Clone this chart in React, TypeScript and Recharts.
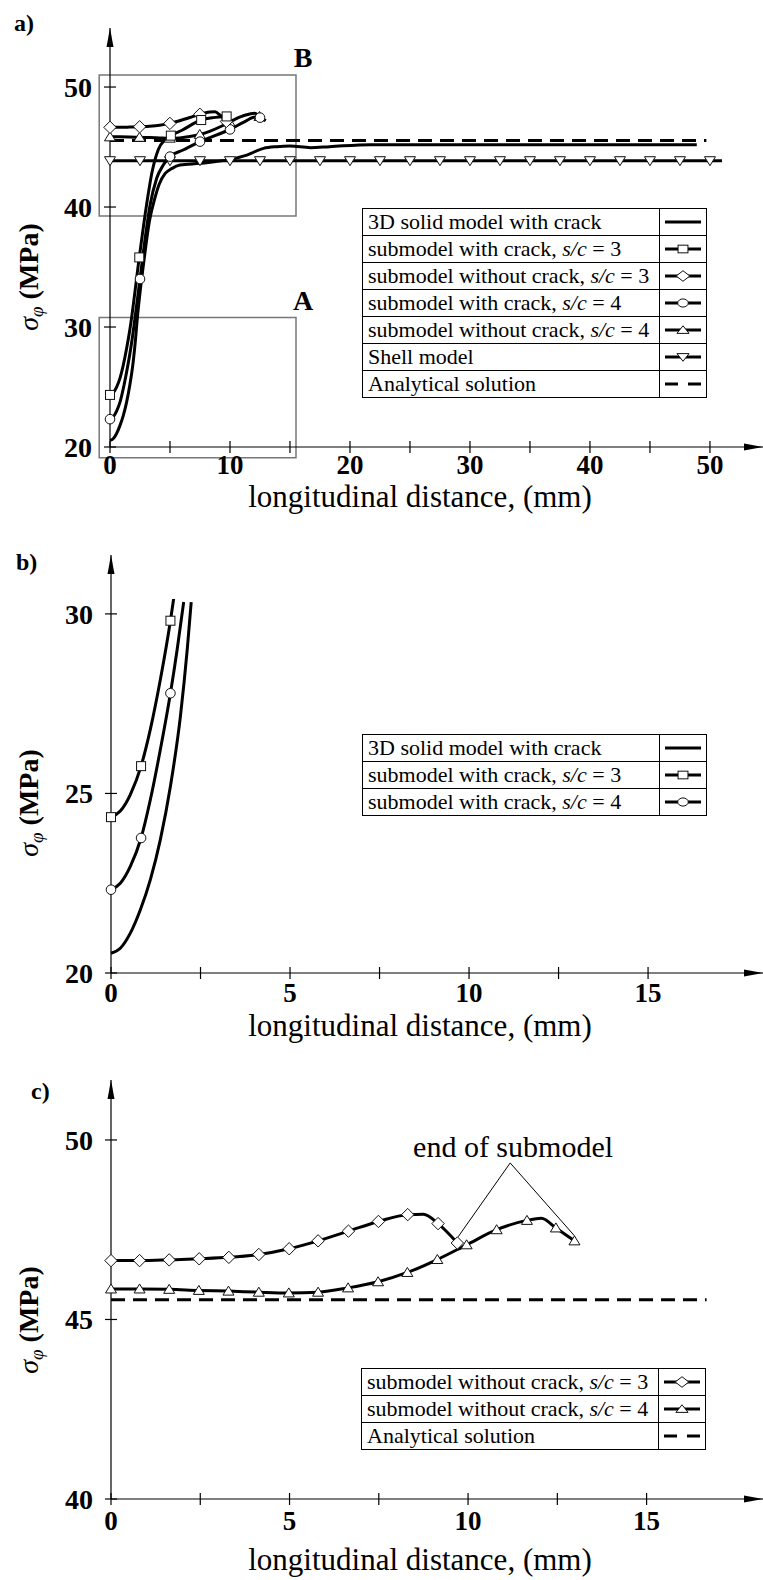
import {
  Line,
  LineChart,
  ReferenceArea,
  ReferenceDot,
  ReferenceLine,
  XAxis,
  YAxis,
} from 'recharts'

const FONT = '"Liberation Serif", "Times New Roman", serif'

type Kind = 'square' | 'diamond' | 'circle' | 'triangle' | 'triangleDown' | 'none'

// 3D solid model with crack
const solidX = [0, 0.26, 0.54, 0.82, 1.1, 1.38, 1.66, 1.94, 2.13, 2.24, 2.8, 3.3, 3.7, 4.1, 4.6, 5.14, 5.83, 7.5, 10, 11.4, 12.8, 13.9, 15, 16.7, 18.3, 21.7, 30, 40, 48.9]
const solidY = [20.55, 20.69, 21.11, 21.76, 22.6, 23.72, 25.2, 27.16, 29.02, 30.33, 35.3, 38.9, 40.6, 41.9, 42.8, 43.2, 43.5, 43.64, 43.97, 44.33, 44.89, 45.03, 45.08, 44.95, 45.03, 45.2, 45.2, 45.2, 45.2]

// submodel with crack, s/c = 3
const sq3X = [0, 0.26, 0.54, 0.84, 1.1, 1.38, 1.66, 1.75, 2.44, 3.05, 3.5, 4.03, 4.58, 5.07, 6.0, 7.6, 8.6, 9.72]
const sq3Y = [24.34, 24.51, 24.97, 25.76, 26.79, 28.18, 29.81, 30.42, 35.8, 40.2, 42.9, 44.8, 45.6, 45.95, 46.4, 47.25, 47.45, 47.55]
const sq3MarksA = [0, 2.44, 5.07, 7.6, 9.72]
const sq3MarksB = [0, 0.84, 1.66]

// submodel with crack, s/c = 4
const ci4X = [0, 0.26, 0.54, 0.84, 1.1, 1.38, 1.66, 1.85, 2.03, 2.5, 3.0, 3.33, 3.89, 4.44, 5.0, 6.1, 7.5, 10.0, 11.2, 12.1, 12.5, 12.9]
const ci4Y = [22.32, 22.5, 22.97, 23.76, 24.83, 26.23, 27.79, 29.02, 30.33, 34.0, 37.9, 40.1, 42.4, 43.5, 44.2, 44.75, 45.45, 46.47, 47.1, 47.5, 47.45, 47.2]
const ci4MarksA = [0, 2.5, 5.0, 7.5, 10.0, 12.5]
const ci4MarksB = [0, 0.84, 1.66]

// submodel without crack, s/c = 3
const di3X = [0, 0.8, 1.63, 2.47, 3.3, 4.14, 4.99, 5.8, 6.65, 7.49, 8.31, 8.75, 9.16, 9.7]
const di3Y = [46.64, 46.64, 46.66, 46.69, 46.73, 46.81, 46.97, 47.19, 47.46, 47.73, 47.92, 47.93, 47.67, 47.13]
const di3MarksA = [0, 2.47, 4.99, 7.49, 9.7]
const di3MarksC = [0, 0.8, 1.63, 2.47, 3.3, 4.14, 4.99, 5.8, 6.65, 7.49, 8.31, 9.16, 9.7]

// submodel without crack, s/c = 4
const tr4X = [0, 0.8, 1.63, 2.46, 3.29, 4.14, 4.98, 5.8, 6.64, 7.48, 8.3, 9.14, 9.96, 10.8, 11.65, 12.05, 12.46, 12.98]
const tr4Y = [45.85, 45.85, 45.84, 45.81, 45.79, 45.76, 45.74, 45.76, 45.88, 46.05, 46.31, 46.67, 47.08, 47.5, 47.76, 47.82, 47.55, 47.19]
const tr4MarksA = [0, 2.46, 4.98, 7.48, 9.96, 12.46]
const tr4MarksC = [0, 0.8, 1.63, 2.46, 3.29, 4.14, 4.98, 5.8, 6.64, 7.48, 8.3, 9.14, 9.96, 10.8, 11.65, 12.46, 12.98]

// Shell model
const shellX = [0, 2.5, 5, 7.5, 10, 12.5, 15, 17.5, 20, 22.5, 25, 27.5, 30, 32.5, 35, 37.5, 40, 42.5, 45, 47.5, 50, 51]
const shellY = [43.86, 43.86, 43.86, 43.86, 43.86, 43.86, 43.86, 43.86, 43.86, 43.86, 43.86, 43.86, 43.86, 43.86, 43.86, 43.86, 43.86, 43.86, 43.86, 43.86, 43.86, 43.86]
const shellMarks = [0, 2.5, 5, 7.5, 10, 12.5, 15, 17.5, 20, 22.5, 25, 27.5, 30, 32.5, 35, 37.5, 40, 42.5, 45, 47.5, 50]

// Analytical solution
const anaXA = [0, 49.7]
const anaXC = [0, 16.68]
const anaY = [45.55, 45.55]

const ticksXA = [0, 5, 10, 15, 20, 25, 30, 35, 40, 45, 50]
const ticksYA = [20, 30, 40, 50]
const ticksXBC = [0, 2.5, 5, 7.5, 10, 12.5, 15]
const ticksYB = [20, 25, 30]
const ticksYC = [40, 45, 50]

const NAMES = {
  solid: '3D solid model with crack',
  sq3: 'submodel with crack, s/c = 3',
  di3: 'submodel without crack, s/c = 3',
  ci4: 'submodel with crack, s/c = 4',
  tr4: 'submodel without crack, s/c = 4',
  shell: 'Shell model',
  ana: 'Analytical solution',
}

const toPoints = (xs: number[], ys: number[]) => xs.map((x, i) => ({ x, y: ys[i] }))

function Marker({ kind, cx, cy, w = 1, h = 1 }: { kind: Kind; cx: number; cy: number; w?: number; h?: number }) {
  const st = { fill: '#fff', stroke: '#111', strokeWidth: 1 }
  if (kind === 'square') return <rect x={cx - 4.5 * w} y={cy - 4.5 * h} width={9 * w} height={9 * h} {...st} />
  if (kind === 'circle') return <ellipse cx={cx} cy={cy} rx={4.8 * w} ry={4.8 * h} {...st} />
  if (kind === 'diamond') {
    const a = 6.2 * w
    const b = 6.2 * h
    return <polygon points={`${cx},${cy - b} ${cx + a},${cy} ${cx},${cy + b} ${cx - a},${cy}`} {...st} />
  }
  if (kind === 'triangle') {
    const a = 5.5 * w
    const b = 5 * h
    return <polygon points={`${cx},${cy - b} ${cx + a},${cy + b * 0.8} ${cx - a},${cy + b * 0.8}`} {...st} />
  }
  if (kind === 'triangleDown') {
    const a = 5.5 * w
    const b = 5 * h
    return <polygon points={`${cx},${cy + b} ${cx + a},${cy - b * 0.8} ${cx - a},${cy - b * 0.8}`} {...st} />
  }
  return null
}

function dots(kind: Kind, marks: number[]) {
  return (p: any) => {
    const { cx, cy, payload, index } = p
    if (cx == null || cy == null || !marks.includes(payload.x)) return <g key={`e-${index}`} />
    return (
      <g key={`m-${index}`}>
        <Marker kind={kind} cx={cx} cy={cy} />
      </g>
    )
  }
}

const xTick = (every: number, dy: number) => (p: any) => {
  const { x, y, payload } = p
  const v = payload.value
  const show = Math.abs(v / every - Math.round(v / every)) < 1e-6
  return (
    <g>
      <line x1={x} x2={x} y1={y - 6} y2={y + 6} stroke="#000" strokeWidth={1.2} />
      {show && (
        <text x={x} y={y + dy} textAnchor="middle" fontFamily={FONT} fontWeight="bold" fontSize={27} fill="#000">
          {v}
        </text>
      )}
    </g>
  )
}

const yTick = (p: any) => {
  const { x, y, payload } = p
  return (
    <g>
      <line x1={x - 6} x2={x + 6} y1={y} y2={y} stroke="#000" strokeWidth={1.2} />
      <text x={x - 18} y={y + 10} textAnchor="end" fontFamily={FONT} fontWeight="bold" fontSize={28} fill="#000">
        {payload.value}
      </text>
    </g>
  )
}

const arrowUp = (p: any) => (
  <polygon points={`${p.cx},${p.cy} ${p.cx + 3.5},${p.cy + 19} ${p.cx - 3.5},${p.cy + 19}`} fill="#000" />
)
const arrowRight = (p: any) => (
  <polygon points={`${p.cx},${p.cy} ${p.cx - 19},${p.cy - 3.5} ${p.cx - 19},${p.cy + 3.5}`} fill="#000" />
)
const textShape = (label: string, size: number, bold: boolean) => (p: any) => (
  <text x={p.cx} y={p.cy} textAnchor="middle" fontFamily={FONT} fontSize={size} fontWeight={bold ? 'bold' : 'normal'} fill="#000">
    {label}
  </text>
)

const curve = {
  type: 'monotone' as const,
  dataKey: 'y',
  stroke: '#000',
  strokeWidth: 3,
  isAnimationActive: false,
  activeDot: false,
}

const axisLine = { stroke: '#000', strokeWidth: 1.2 }

function renderName(name: string) {
  const parts = name.split('s/c')
  if (parts.length === 1) return name
  return (
    <>
      {parts[0]}
      <i>s/c</i>
      {parts[1]}
    </>
  )
}

function LegendBox({ left, top, items }: { left: number; top: number; items: { name: string; kind: Kind; dashed?: boolean }[] }) {
  return (
    <div style={{ position: 'absolute', left, top, border: '1px solid #000', fontFamily: FONT, fontSize: 22, background: '#fff', color: '#000' }}>
      {items.map((it, i) => (
        <div key={it.name} style={{ display: 'flex', height: 26, borderTop: i ? '1px solid #000' : 'none' }}>
          <div style={{ width: 297, boxSizing: 'border-box', paddingLeft: 5, lineHeight: '26px', borderRight: '1px solid #000', whiteSpace: 'nowrap' }}>
            {renderName(it.name)}
          </div>
          <svg width={46} height={26}>
            <line x1={5} x2={41} y1={13} y2={13} stroke="#000" strokeWidth={3} strokeDasharray={it.dashed ? '13 10' : undefined} />
            <Marker kind={it.kind} cx={23} cy={13} w={1.1} h={0.85} />
          </svg>
        </div>
      ))}
    </div>
  )
}

function YTitle({ x, y }: { x: number; y: number }) {
  return (
    <text transform={`translate(${x},${y}) rotate(-90)`} textAnchor="middle" fontFamily={FONT} fontSize={28} fill="#000">
      <tspan fontStyle="italic">σ</tspan>
      <tspan fontStyle="italic" fontSize={19} dy={5}>φ</tspan>
      <tspan dy={-5} fontWeight="bold"> (MPa)</tspan>
    </text>
  )
}

function XTitle({ y }: { y: number }) {
  return (
    <text x={420} y={y} textAnchor="middle" fontFamily={FONT} fontSize={31} fill="#000">
      longitudinal distance, (mm)
    </text>
  )
}

export default function App() {
  const xMaxA = 54.42
  const yMaxA = 54.92
  const xMaxB = 18.21
  const yMaxB = 31.64
  const xMaxC = 18.26
  const yMaxC = 51.67
  const inB = (xs: number[], ys: number[]) => toPoints(xs, ys).filter((p) => p.y <= 30.5)

  return (
    <div style={{ position: 'absolute', left: 0, top: 0, width: 763, height: 1580, background: '#fff', overflow: 'hidden' }}>
      {/* a) full model comparison */}
      <div style={{ position: 'absolute', left: 0, top: 0 }}>
        <LineChart width={763} height={510} margin={{ top: 28, right: 0, bottom: 23, left: 50 }}>
          <XAxis dataKey="x" type="number" domain={[0, xMaxA]} ticks={ticksXA} interval={0} height={40} axisLine={axisLine} tickLine={false} tickSize={0} tickMargin={0} tick={xTick(10, 27)} />
          <YAxis type="number" domain={[20, yMaxA]} ticks={ticksYA} interval={0} width={60} axisLine={axisLine} tickLine={false} tickSize={0} tickMargin={0} tick={yTick} />
          <ReferenceArea x1={-0.9} x2={15.5} y1={39.25} y2={51} fill="none" stroke="#777" strokeWidth={1.5} ifOverflow="visible" />
          <ReferenceArea x1={-0.9} x2={15.5} y1={19.1} y2={30.8} fill="none" stroke="#777" strokeWidth={1.5} ifOverflow="visible" />
          <ReferenceDot x={16.1} y={51.67} r={0} ifOverflow="visible" shape={textShape('B', 28, true)} />
          <ReferenceDot x={16.1} y={31.42} r={0} ifOverflow="visible" shape={textShape('A', 28, true)} />
          <ReferenceDot x={0} y={yMaxA} r={0} ifOverflow="visible" shape={arrowUp} />
          <ReferenceDot x={xMaxA} y={20} r={0} ifOverflow="visible" shape={arrowRight} />
          <Line {...curve} data={toPoints(anaXA, anaY)} strokeDasharray="14 8" dot={false} />
          <Line {...curve} data={toPoints(shellX, shellY)} dot={dots('triangleDown', shellMarks)} />
          <Line {...curve} data={toPoints(solidX, solidY)} dot={false} />
          <Line {...curve} data={toPoints(tr4X, tr4Y)} dot={dots('triangle', tr4MarksA)} />
          <Line {...curve} data={toPoints(ci4X, ci4Y)} dot={dots('circle', ci4MarksA)} />
          <Line {...curve} data={toPoints(di3X, di3Y)} dot={dots('diamond', di3MarksA)} />
          <Line {...curve} data={toPoints(sq3X, sq3Y)} dot={dots('square', sq3MarksA)} />
        </LineChart>
      </div>

      {/* b) detail A */}
      <div style={{ position: 'absolute', left: 0, top: 540 }}>
        <LineChart width={763} height={500} margin={{ top: 15, right: 0, bottom: 27, left: 51 }}>
          <XAxis dataKey="x" type="number" domain={[0, xMaxB]} ticks={ticksXBC} interval={0} height={40} axisLine={axisLine} tickLine={false} tickSize={0} tickMargin={0} tick={xTick(5, 29)} />
          <YAxis type="number" domain={[20, yMaxB]} ticks={ticksYB} interval={0} width={60} axisLine={axisLine} tickLine={false} tickSize={0} tickMargin={0} tick={yTick} />
          <ReferenceDot x={0} y={yMaxB} r={0} ifOverflow="visible" shape={arrowUp} />
          <ReferenceDot x={xMaxB} y={20} r={0} ifOverflow="visible" shape={arrowRight} />
          <Line {...curve} data={inB(solidX, solidY)} dot={false} />
          <Line {...curve} data={inB(ci4X, ci4Y)} dot={dots('circle', ci4MarksB)} />
          <Line {...curve} data={inB(sq3X, sq3Y)} dot={dots('square', sq3MarksB)} />
        </LineChart>
      </div>

      {/* c) detail B */}
      <div style={{ position: 'absolute', left: 0, top: 1050 }}>
        <LineChart width={763} height={530} margin={{ top: 30, right: 0, bottom: 41, left: 51 }}>
          <XAxis dataKey="x" type="number" domain={[0, xMaxC]} ticks={ticksXBC} interval={0} height={40} axisLine={axisLine} tickLine={false} tickSize={0} tickMargin={0} tick={xTick(5, 31)} />
          <YAxis type="number" domain={[40, yMaxC]} ticks={ticksYC} interval={0} width={60} axisLine={axisLine} tickLine={false} tickSize={0} tickMargin={0} tick={yTick} />
          <ReferenceDot x={0} y={yMaxC} r={0} ifOverflow="visible" shape={arrowUp} />
          <ReferenceDot x={xMaxC} y={40} r={0} ifOverflow="visible" shape={arrowRight} />
          <ReferenceLine segment={[{ x: 11.18, y: 49.36 }, { x: 9.72, y: 47.3 }]} stroke="#000" strokeWidth={1} ifOverflow="visible" />
          <ReferenceLine segment={[{ x: 11.18, y: 49.36 }, { x: 12.98, y: 47.33 }]} stroke="#000" strokeWidth={1} ifOverflow="visible" />
          <ReferenceDot x={11.26} y={49.53} r={0} ifOverflow="visible" shape={textShape('end of submodel', 30, false)} />
          <Line {...curve} data={toPoints(anaXC, anaY)} strokeDasharray="14 8" dot={false} />
          <Line {...curve} data={toPoints(tr4X, tr4Y)} dot={dots('triangle', tr4MarksC)} />
          <Line {...curve} data={toPoints(di3X, di3Y)} dot={dots('diamond', di3MarksC)} />
        </LineChart>
      </div>

      <LegendBox
        left={362}
        top={208}
        items={[
          { name: NAMES.solid, kind: 'none' },
          { name: NAMES.sq3, kind: 'square' },
          { name: NAMES.di3, kind: 'diamond' },
          { name: NAMES.ci4, kind: 'circle' },
          { name: NAMES.tr4, kind: 'triangle' },
          { name: NAMES.shell, kind: 'triangleDown' },
          { name: NAMES.ana, kind: 'none', dashed: true },
        ]}
      />
      <LegendBox
        left={362}
        top={734}
        items={[
          { name: NAMES.solid, kind: 'none' },
          { name: NAMES.sq3, kind: 'square' },
          { name: NAMES.ci4, kind: 'circle' },
        ]}
      />
      <LegendBox
        left={361}
        top={1368}
        items={[
          { name: NAMES.di3, kind: 'diamond' },
          { name: NAMES.tr4, kind: 'triangle' },
          { name: NAMES.ana, kind: 'none', dashed: true },
        ]}
      />

      <svg width={763} height={1580} style={{ position: 'absolute', left: 0, top: 0, pointerEvents: 'none' }}>
        <text x={14} y={31} fontFamily={FONT} fontWeight="bold" fontSize={24}>a)</text>
        <text x={16} y={570} fontFamily={FONT} fontWeight="bold" fontSize={24}>b)</text>
        <text x={31} y={1099} fontFamily={FONT} fontWeight="bold" fontSize={24}>c)</text>
        <YTitle x={38} y={277} />
        <YTitle x={38} y={803} />
        <YTitle x={38} y={1320} />
        <XTitle y={507} />
        <XTitle y={1036} />
        <XTitle y={1570} />
      </svg>
    </div>
  )
}
